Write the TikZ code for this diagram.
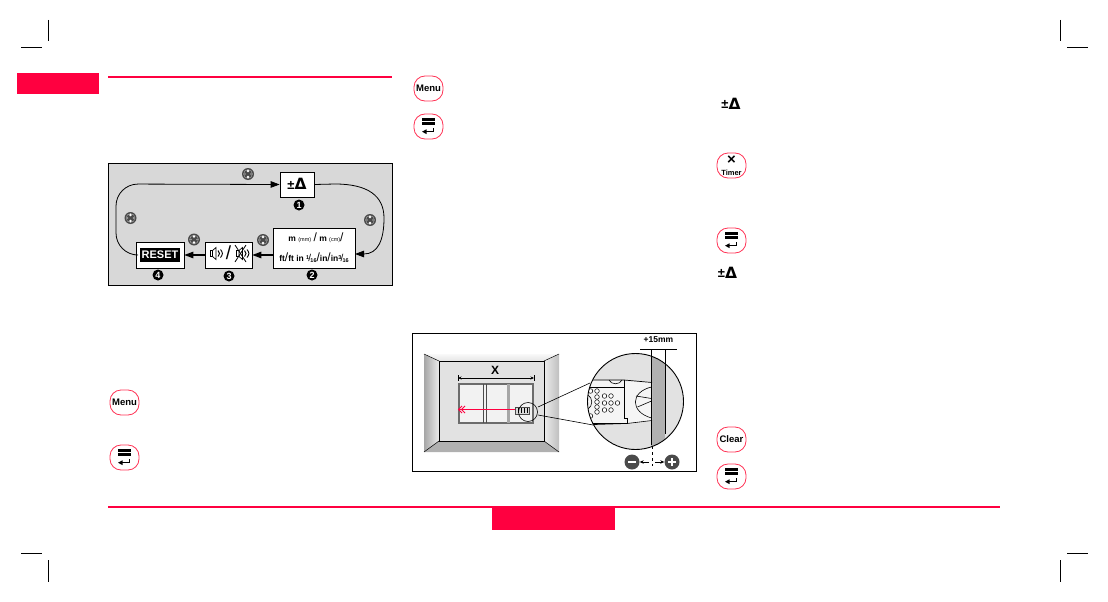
\documentclass[tikz,border=0pt]{standalone}
\usepackage{fontspec}
\setmainfont{Liberation Sans}
\newfontfamily\dejavufont{DejaVu Sans}
\usepackage{xcolor}
\definecolor{manualRed}{HTML}{FF0040}
\definecolor{keyRed}{HTML}{FF3355}
\definecolor{panelGrey}{HTML}{D8D8D8}
\definecolor{wallGrey}{HTML}{E2E2E2}
\definecolor{stripGrey}{HTML}{B0B0B0}
\definecolor{badgeGrey}{HTML}{4A4A4A}
\usetikzlibrary{arrows.meta, calc}
\newcommand{\SmallFrac}[2]{\raisebox{2pt}{\fontsize{5.5}{5}\selectfont #1}\hspace{-0.8pt}{\fontsize{10}{9}\selectfont\mdseries /}\hspace{-0.8pt}\raisebox{-1pt}{\fontsize{5.5}{5}\selectfont #2}}
\newcommand{\TallSlash}{{\fontsize{12}{12}\selectfont\mdseries /}}
\newcommand{\DeltaKey}{{\raisebox{0.5pt}{\bfseries\fontsize{13}{13}\selectfont ±}\hspace{0.2pt}{\dejavufont\bfseries\fontsize{15.5}{15}\selectfont Δ}}}
\tikzset{
  %% boxes and frames
  frameBox/.style   = {draw=black, line width=1pt},
  stepBox/.style    = {draw=black, fill=white, line width=0.7pt, align=center,
                       inner sep=0pt, font=\bfseries},
  keyBox/.style     = {draw=keyRed, fill=white, line width=0.8pt, rounded corners=11pt,
                       minimum width=29pt, minimum height=25pt, inner sep=0pt,
                       align=center, font=\bfseries},
  %% arrows
  flowArrow/.style  = {-{Triangle[length=9pt, width=6.5pt]}, draw=black, line width=0.8pt},
  dimArrow/.style   = {{Stealth[length=3.5pt, width=3pt]}-{Stealth[length=3.5pt, width=3pt]},
                       draw=black, line width=0.6pt},
  %% text
  stepNum/.style    = {circle, fill=black, text=white, inner sep=0pt, minimum size=11pt,
                       font=\fontsize{9}{9}\selectfont\bfseries},
  badge/.style      = {circle, fill=badgeGrey, inner sep=0pt, minimum size=15pt},
  deltaText/.style  = {inner sep=0pt},
  rangeText/.style  = {inner sep=0pt, font=\fontsize{8.5}{9}\selectfont\bfseries},
  %% small pictures
  cropMark/.style   = {draw=black, line width=0.9pt},
  gearIcon/.pic     = {
    \fill[badgeGrey] (0,0) circle (6pt);
    \draw[gray!60, line width=0.4pt] (0,0) circle (4.4pt);
    \foreach \ang in {90,270}
      \fill[white] (\ang:3pt) circle (1.4pt);
    \foreach \ang in {0,180}
      \fill[gray!70] (\ang:3pt) circle (0.9pt);
  },
  enterKey/.pic     = {
    \node[keyBox] (-box) at (0,0) {};
    \fill[black] (-6.5,-8.3) rectangle (6,-5.8);
    \fill[black] (-6.5,-4.2) rectangle (6,-1.7);
    \draw[black, line width=1.1pt, -{Triangle[length=4.5pt, width=4.5pt]}]
      (5,1.8) -- (5,5.2) -- (-6.5,5.2);
  },
  speakerIcon/.pic  = {
    \draw[black, line width=0.7pt, fill=white] (-6,-3) rectangle (-3.5,3);
    \draw[black, line width=0.7pt, fill=white] (-3.5,-3) -- (0,-6) -- (0,6) -- (-3.5,3) -- cycle;
    \draw[black, line width=0.9pt] (2,-3) .. controls (4,-1) and (4,1) .. (2,3);
    \draw[black, line width=0.9pt] (4.5,-4) .. controls (7,-1) and (7,1) .. (4.5,4);
  },
}
\begin{document}
\begin{tikzpicture}[x=1pt, y=-1pt, font=\fontsize{8}{9}\selectfont]
\useasboundingbox (0,0) rectangle (1108,602);

%% crop marks
\draw[cropMark] (21,47) -- (42,47);
\draw[cropMark] (48,20) -- (48,41);
\draw[cropMark] (1067,47) -- (1088,47);
\draw[cropMark] (1060,20) -- (1060,41);
\draw[cropMark] (21,553) -- (42,553);
\draw[cropMark] (48,560) -- (48,582);
\draw[cropMark] (1067,553) -- (1088,553);
\draw[cropMark] (1060,560) -- (1060,582);

%% page furniture
\fill[manualRed] (17,73) rectangle (99,94);
\fill[manualRed] (108,76) rectangle (392,78);
\fill[manualRed] (108,506) rectangle (1000,508);
\fill[manualRed] (492,507) rectangle (615,530);

%% mode cycle
\draw[frameBox, fill=panelGrey] (108.5,163.5) rectangle (392,285);

\node[stepBox, minimum width=34pt, minimum height=25pt] (unit) at (297,184.5) {};
\node[deltaText] (unitTxt) at (297,184) {\DeltaKey};
\node[stepBox, minimum width=82pt, minimum height=40pt] (range) at (314,248) {};
\node[rangeText] (rangeTop) at (316,238)
     {m {\fontsize{5.5}{5}\selectfont\mdseries (mm)} \TallSlash{} m {\fontsize{5.5}{5}\selectfont\mdseries (cm)}\TallSlash};
\node[rangeText] (rangeBot) at (314,258)
     {ft\TallSlash{}ft in \SmallFrac{1}{16}\TallSlash{}in\TallSlash{}in\SmallFrac{3}{16}};
\node[stepBox, minimum width=47pt, minimum height=26pt] (sound) at (228.5,255) {};
\node[stepBox, minimum width=48pt, minimum height=26pt] (reset) at (160,255) {};
\node[fill=black, text=white, inner sep=0pt, minimum width=40pt, minimum height=14pt,
      font=\fontsize{11}{11}\selectfont\bfseries] (resetTxt) at (160,254.5) {RESET};

\pic at (216,253.5) {speakerIcon};
\node[inner sep=0pt, font=\fontsize{19}{19}\selectfont] (soundSlash) at (228.5,253) {/};
\pic at (242.5,253.5) {speakerIcon};
\draw[black, line width=0.8pt] (235,245) -- (246,262);
\draw[black, line width=0.8pt] (246,245) -- (235,262);

\coordinate (rangeIn) at (355,254);
\draw[flowArrow, rounded corners=22pt] (reset.west) -- (116,255) -- (116,184) -- (unit.west);
\draw[flowArrow] (unit.east) -- (335,184) .. controls (368,184) and (384,196) .. (384,218)
                 .. controls (384,240) and (378,254) .. (rangeIn);
\draw[flowArrow, line width=1.1pt] (range.west |- sound.east) -- (sound.east);
\draw[flowArrow, line width=1.1pt] (sound.west) -- (reset.east);

\node[stepNum] (numA) at (299,205) {1};
\node[stepNum] (numB) at (312,275) {2};
\node[stepNum] (numC) at (229,276) {3};
\node[stepNum] (numD) at (158,275) {4};

\pic at (248,174) {gearIcon};
\pic at (130.5,218) {gearIcon};
\pic at (370,220) {gearIcon};
\pic at (194,239.5) {gearIcon};
\pic at (263,240) {gearIcon};

%% keys
\node[keyBox] (menuA) at (124.5,402.5) {\fontsize{9.5}{9}\selectfont Menu};
\pic (enterA) at (124.5,457.5) {enterKey};
\node[keyBox] (menuB) at (428.5,88.5) {\fontsize{9.5}{9}\selectfont Menu};
\pic (enterB) at (428.5,126.5) {enterKey};
\node[deltaText] (deltaA) at (731,103.5) {\DeltaKey};
\node[keyBox] (timer) at (731.5,165.5)
     {{\fontsize{15}{10}\selectfont ×}\\[-1pt]{\fontsize{7.5}{7}\selectfont Timer}};
\pic (enterC) at (731.5,240.5) {enterKey};
\node[deltaText] (deltaB) at (727.5,272.5) {\DeltaKey};
\node[keyBox] (clear) at (731.5,439.5) {\fontsize{9.5}{9}\selectfont Clear};
\pic (enterD) at (731.5,476.5) {enterKey};

%% offset figure
\draw[frameBox] (412.5,333.5) rectangle (696,471);

\shade[left color=gray!70, right color=gray!15] (424,354) -- (439,361) -- (439,441) -- (424,452) -- cycle;
\shade[left color=gray!15, right color=gray!50] (544,361) -- (559,354) -- (559,452) -- (544,441) -- cycle;
\shade[top color=gray!5, bottom color=gray!20] (424,354) -- (559,354) -- (544,361) -- (439,361) -- cycle;
\fill[stripGrey] (424,452) -- (439,441) -- (544,441) -- (559,452) -- cycle;
\draw[black, line width=0.8pt, fill=wallGrey] (439,361) rectangle (544,441);
\draw[black, line width=0.5pt] (424,354) -- (439,361) (559,354) -- (544,361)
                               (424,452) -- (439,441) (559,452) -- (544,441);

\draw[gray!85!black, line width=1.8pt, fill=gray!10] (459,384) rectangle (533,423);
\draw[gray!60!black, line width=0.8pt] (483,384) -- (483,423) (486,384) -- (486,423);
\draw[gray!70, line width=3pt] (508,384) -- (508,423);

\draw[dimArrow] (458,378) -- (534,378);
\draw[black, line width=0.6pt] (458,375) -- (458,381) (534,375) -- (534,381);
\node[inner sep=0pt, font=\fontsize{12}{12}\selectfont\bfseries] (xLabel) at (495,370) {X};

\draw[manualRed, line width=1.2pt] (515,409.5) -- (458.5,409.5);
\draw[manualRed, line width=0.8pt] (462,406) -- (458.5,409.5) -- (462,413)
                                   (465,406) -- (461.5,409.5) -- (465,413);
\draw[gray!60!black, fill=gray!30, line width=0.5pt] (515,407) rectangle (529,414);
\foreach \col in {518,521,524,527}
  \draw[black, line width=0.6pt] (\col,408) -- (\col,413);

\coordinate (lensC) at (528,412);
\draw[black, line width=0.6pt] (lensC) circle (9.5pt);
\coordinate (zoomC) at (635.5,401.5);
\draw[black, line width=0.6pt] (538,407) -- (590,383);
\draw[black, line width=0.6pt] (538,415) -- (593,425);

\begin{scope}
  \clip (zoomC) circle (48pt);
  \fill[wallGrey] (zoomC) circle (48pt);
  \fill[stripGrey] (651,345) rectangle (665,455);
  \fill[gray!8] (580,380) -- (652,382) -- (652,421) -- (627,423) -- (580,424) -- cycle;
  \draw[black, line width=0.7pt] (580,380) -- (624,380) -- (652,382.5);
  \draw[black, line width=0.6pt] (580,425) -- (627,423.5) -- (652,420.5);
  \draw[black, line width=0.7pt] (580,387) -- (624,387) ;
  \draw[black, line width=0.7pt] (624,380) -- (624,418.5) -- (627,418.5) -- (627,423) -- (580,423);
  \draw[black, line width=0.6pt] (609,380) .. controls (611,385) and (620,385) .. (622,380);
  \draw[black, line width=0.6pt] (651.5,387) .. controls (630,392) and (630,412) .. (651.5,418);
  \draw[black, line width=0.6pt] (636,396) -- (651.5,398.5);
  \draw[black, line width=0.6pt] (637.5,407) -- (651.5,401);
  \draw[black, line width=0.6pt] (588,395) .. controls (593,398) and (593,406) .. (588,409);
  \foreach \col/\row in {590.5/391, 590.5/416, 597/391, 597/397, 597/402, 597/407, 597/412,
                         604.5/396, 604.5/403, 604.5/410, 611/396, 611/403, 611/410, 617.5/403}
    \draw[black, line width=0.5pt, fill=white] (\col,\row) circle (2.3pt);
\end{scope}
\draw[black, line width=0.9pt] (zoomC) circle (48pt);

\draw[black, line width=0.9pt] (651.5,350) -- (651.5,445);
\draw[black, line width=0.9pt] (665,350) -- (665,434);
\draw[black, line width=0.6pt] (640,349.5) -- (677,349.5);
\draw[black, line width=0.7pt, dashed] (652,446) -- (652,466);
\node[inner sep=0pt, font=\fontsize{8.5}{8}\selectfont\bfseries] (offsetLabel) at (658.5,340) {+15mm};

\node[badge] (minusSign) at (632,462) {};
\fill[white] (628,460.8) rectangle (636,463.2);
\node[badge] (plusSign) at (672,462) {};
\fill[white] (668,460.8) rectangle (676,463.2);
\fill[white] (670.8,458) rectangle (673.2,466);
\draw[flowArrow, -{Stealth[length=4pt, width=3.5pt]}, line width=0.5pt] (649,462) -- (minusSign.east);
\draw[flowArrow, -{Stealth[length=4pt, width=3.5pt]}, line width=0.5pt] (655,462) -- (plusSign.west);

\end{tikzpicture}
\end{document}
